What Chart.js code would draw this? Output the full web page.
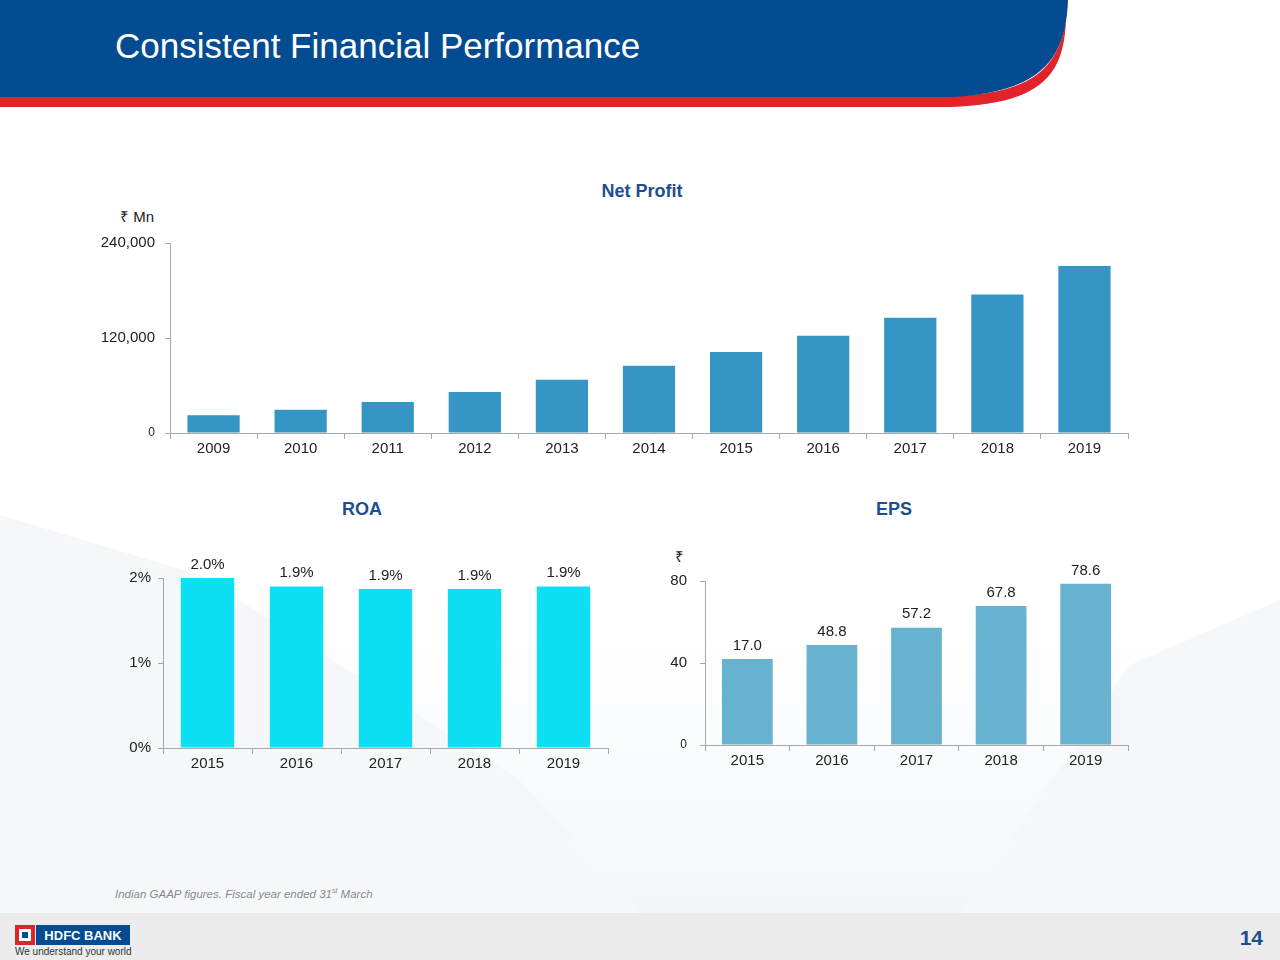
<!DOCTYPE html>
<html>
<head>
<meta charset="utf-8">
<script src="https://cdn.jsdelivr.net/npm/chart.js@4"></script>
<style>
  html, body { margin: 0; padding: 0; }
  body { width: 1280px; height: 960px; position: relative; overflow: hidden; background: #fff;
         font-family: "Liberation Sans", Arial, sans-serif; color: #222; }
  .abs { position: absolute; }
  .head { position: absolute; left: 115px; top: 26px; font-size: 35px; color: #fff; }
  .sec { position: absolute; font-weight: bold; font-size: 18px; color: #1d4f8e; transform: translateX(-50%); }
  .unit { position: absolute; font-size: 15px; color: #222; }
  canvas { position: absolute; }
  .note { position: absolute; left: 115px; top: 887px; font-size: 11.5px; font-style: italic; color: #8a8a8a; }
  .footer { position: absolute; left: 0; top: 913px; width: 1280px; height: 47px; background: #ececec; }
  .page { position: absolute; right: 17px; top: 926px; font-size: 21px; font-weight: bold; color: #1d4f8e; }
</style>
</head>
<body>
<svg class="abs" style="left:0;top:0" width="1280" height="960">
  <defs>
    <linearGradient id="fade" x1="0" y1="0" x2="0" y2="1">
      <stop offset="0" stop-color="#f6f8fb" stop-opacity="0"/>
      <stop offset="1" stop-color="#f3f6f9" stop-opacity="1"/>
    </linearGradient>
  </defs>
  <rect x="0" y="600" width="1280" height="313" fill="url(#fade)"/>
  <polygon points="0,515 200,575 520,780 640,913 0,913" fill="#f5f7fa"/>
  <polygon points="1280,600 1130,665 960,913 1280,913" fill="#f5f7fa"/>
  <path d="M0,96 H950 C1030,94 1058,70 1066,20 C1064,75 1042,104 950,107 H0 Z" fill="#e1242b"/>
  <path d="M0,0 H1068 C1066,55 1045,93 950,97 H0 Z" fill="#034c91"/>
</svg>
<div class="head">Consistent Financial Performance</div>

<div class="sec" style="left:642px;top:181px">Net Profit</div>
<div class="unit" style="left:120px;top:206px">₹ Mn</div>
<canvas id="net" style="left:80px;top:224px" width="1060" height="239"></canvas>

<div class="sec" style="left:362px;top:499px">ROA</div>
<canvas id="roa" style="left:100px;top:540px" width="518" height="238"></canvas>

<div class="sec" style="left:894px;top:499px">EPS</div>
<div class="unit" style="left:675px;top:546px">₹</div>
<canvas id="eps" style="left:640px;top:540px" width="500" height="235"></canvas>

<div class="note">Indian GAAP figures. Fiscal year ended 31<sup style="font-size:7px">st</sup> March</div>
<div class="footer"></div>
<svg class="abs" style="left:15px;top:925px" width="120" height="22">
  <rect x="0" y="0" width="20" height="20" fill="#e1242b"/>
  <rect x="4" y="4" width="12" height="12" fill="#fff"/>
  <rect x="7" y="7" width="6" height="6" fill="#034c91"/>
  <rect x="21" y="0" width="94" height="20" fill="#034c91"/>
  <text x="68" y="15" text-anchor="middle" font-family="Liberation Sans, Arial" font-weight="bold" font-size="13" fill="#fff">HDFC BANK</text>
</svg>
<div class="abs" style="left:15px;top:946px;font-size:10px;color:#333">We understand your world</div>
<div class="page">14</div>

<script>
const netYears = ["2009", "2010", "2011", "2012", "2013", "2014", "2015", "2016", "2017", "2018", "2019"];
const netProfit = [22400, 29500, 39300, 51700, 67300, 84800, 102200, 123000, 145500, 174900, 210800];
const netTicks = [0, 120000, 240000];

const roaYears = ["2015", "2016", "2017", "2018", "2019"];
const roaValues = [2.0, 1.9, 1.87, 1.87, 1.9];
const roaLabels = ["2.0%", "1.9%", "1.9%", "1.9%", "1.9%"];

const epsYears = ["2015", "2016", "2017", "2018", "2019"];
const epsValues = [42.0, 48.8, 57.2, 67.8, 78.6];
const epsLabels = ["17.0", "48.8", "57.2", "67.8", "78.6"];

Chart.defaults.font.family = '"Liberation Sans", Arial, sans-serif';
Chart.defaults.color = "#222";
Chart.defaults.animation = false;

const axisColor = "#a8a8a8";

// draws the text above each bar
const barLabels = {
  id: "barLabels",
  afterDatasetsDraw(chart, args, opts) {
    if (!opts.texts) return;
    const ctx = chart.ctx;
    const meta = chart.getDatasetMeta(0);
    ctx.save();
    ctx.font = "15px " + Chart.defaults.font.family;
    ctx.fillStyle = "#222";
    ctx.textAlign = "center";
    ctx.textBaseline = "bottom";
    meta.data.forEach((bar, i) => {
      ctx.fillText(opts.texts[i], bar.x, bar.y - opts.gap);
    });
    ctx.restore();
  },
};

function makeChart(id, labels, values, color, opts) {
  return new Chart(document.getElementById(id), {
    type: "bar",
    data: {
      labels: labels,
      datasets: [{
        data: values,
        backgroundColor: color,
        categoryPercentage: 1.0,
        barPercentage: 0.6,
      }],
    },
    options: {
      responsive: false,
      layout: { padding: { top: opts.padTop, right: opts.padRight, left: 0, bottom: 0 } },
      plugins: {
        legend: { display: false },
        tooltip: { enabled: false },
        barLabels: { texts: opts.texts, gap: 6 },
      },
      scales: {
        x: {
          afterFit: (s) => { s.height = 30; },
          grid: { drawOnChartArea: false, color: axisColor, tickLength: 6, offset: true },
          border: { color: axisColor },
          ticks: { font: { size: 15 }, padding: 1, color: "#222" },
        },
        y: {
          min: opts.min,
          max: opts.max,
          afterFit: (s) => { s.width = opts.yWidth; },
          afterBuildTicks: (s) => { s.ticks = opts.ticks.map((v) => ({ value: v })); },
          grid: { drawOnChartArea: false, color: axisColor, tickLength: 5 },
          border: { color: axisColor },
          ticks: {
            padding: opts.tickPad,
            color: "#222",
            font: (c) => ({ size: c.tick && c.tick.value === 0 && opts.smallZero ? 12 : 15 }),
            callback: opts.fmt,
          },
        },
      },
    },
    plugins: [barLabels],
  });
}

makeChart("net", netYears, netProfit, "#3596c6", {
  padTop: 1, padRight: 12, yWidth: 90, tickPad: 10,
  min: 0, max: 240000, ticks: netTicks, smallZero: true,
  fmt: (v) => v.toLocaleString("en-US"),
  texts: null,
});

makeChart("roa", roaYears, roaValues, "#0ddff5", {
  padTop: 38, padRight: 10, yWidth: 63, tickPad: 7,
  min: 0, max: 2, ticks: [0, 1, 2], smallZero: false,
  fmt: (v) => v + "%",
  texts: roaLabels,
});

makeChart("eps", epsYears, epsValues, "#67b2cf", {
  padTop: 41, padRight: 12, yWidth: 65, tickPad: 13,
  min: 0, max: 80, ticks: [0, 40, 80], smallZero: true,
  fmt: (v) => String(v),
  texts: epsLabels,
});
</script>
</body>
</html>
